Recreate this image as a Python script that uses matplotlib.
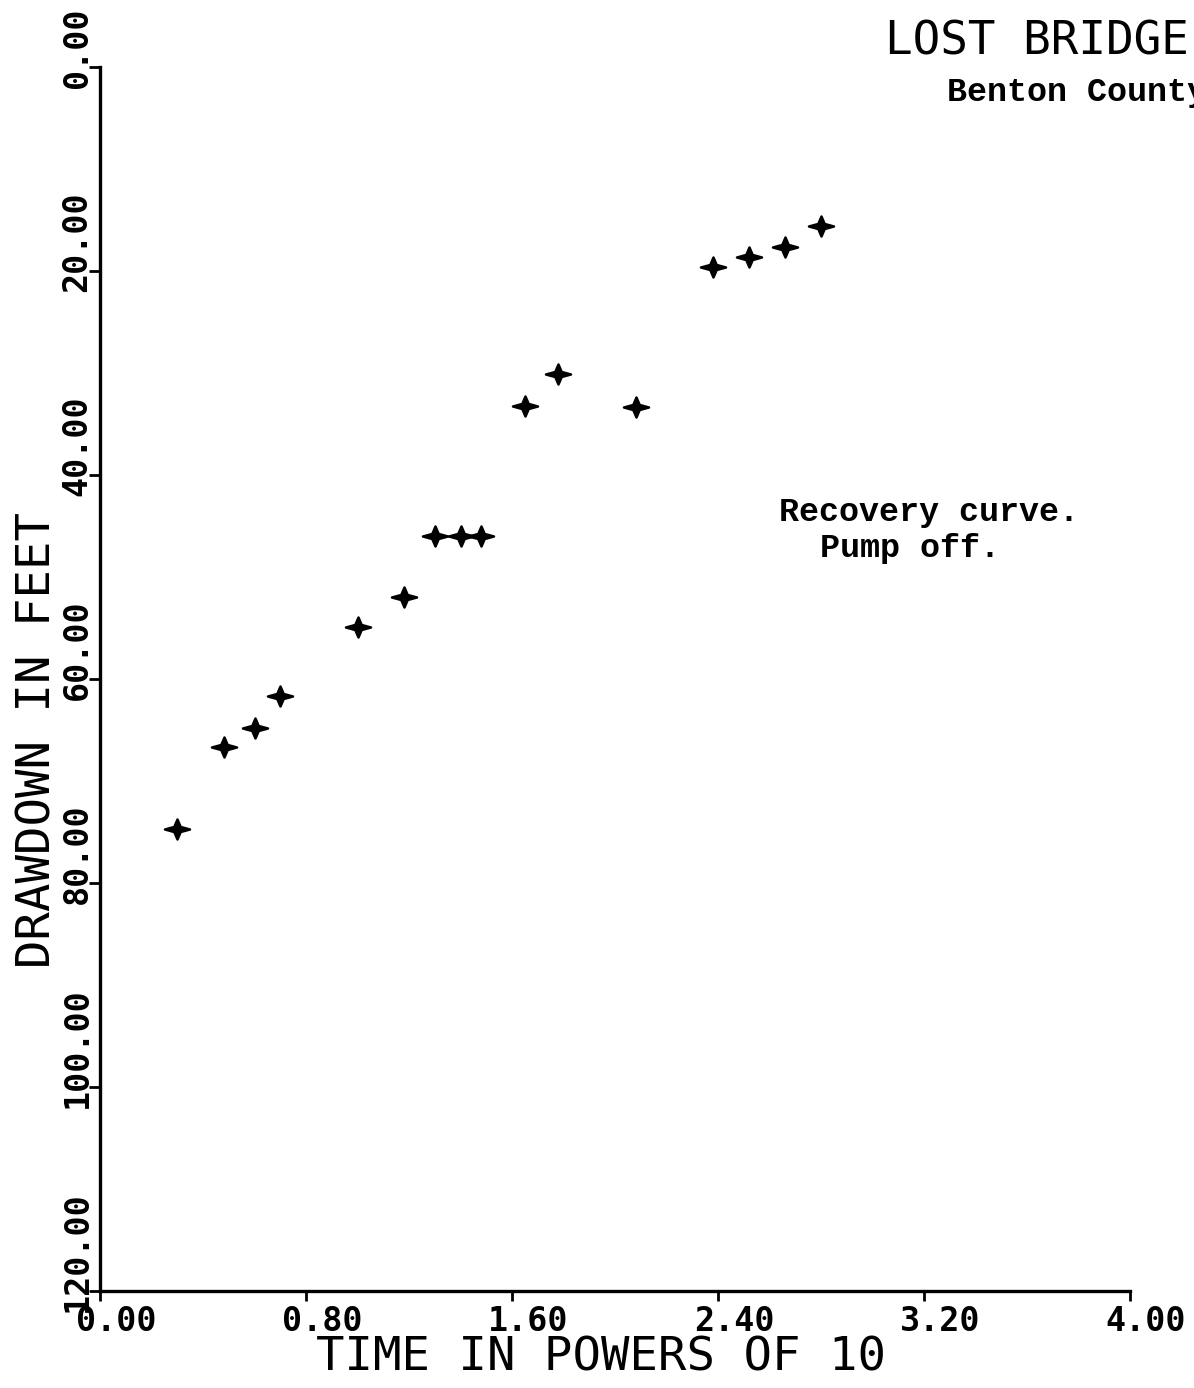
import numpy as np
import matplotlib
matplotlib.use("Agg")
import matplotlib.pyplot as plt
from matplotlib.path import Path
from matplotlib.transforms import Affine2D, ScaledTranslation

# log10 of time since pump stopped, and drawdown in feet
log_time = [0.30, 0.48, 0.60, 0.70, 1.00, 1.18, 1.30, 1.40, 1.48,
            1.65, 1.78, 2.08, 2.38, 2.52, 2.66, 2.80]
drawdown = [74.7, 66.7, 64.8, 61.7, 54.9, 52.0, 46.0, 46.0, 46.0,
            33.2, 30.1, 33.3, 19.6, 18.6, 17.6, 15.6]

x_ticks = [0.0, 0.8, 1.6, 2.4, 3.2, 4.0]
y_ticks = [0, 20, 40, 60, 80, 100, 120]

plotter = "DejaVu Sans Mono"
typewriter = "Liberation Mono"

fig = plt.figure(figsize=(11.94, 13.88), dpi=100)
ax = fig.add_axes([100 / 1194, 97 / 1388, 1030 / 1194, 1224 / 1388])

# plotter "+" symbol: four-pointed star, a bit wider than tall
star = Path.unit_regular_star(4, 0.36)
star = star.transformed(Affine2D().scale(1.25, 1.0))
ax.plot(log_time, drawdown, linestyle="none", marker=star, markersize=18,
        markeredgewidth=1.8, color="black", clip_on=False)

ax.set_xlim(0, 4.0)
ax.set_ylim(120, 0)

for side in ("top", "right"):
    ax.spines[side].set_visible(False)
for side in ("left", "bottom"):
    ax.spines[side].set_linewidth(2.4)

ax.set_xticks(x_ticks)
ax.set_xticklabels([f"{v:.2f}" for v in x_ticks], fontfamily=plotter,
                   fontsize=24, fontweight="bold")
ax.tick_params(axis="x", direction="out", length=7, width=2, pad=3)
shift = ScaledTranslation(0.16, 0, fig.dpi_scale_trans)
for lbl in ax.get_xticklabels():
    lbl.set_transform(lbl.get_transform() + shift)

ax.set_yticks(y_ticks)
ax.set_yticklabels([])
ax.tick_params(axis="y", direction="out", length=8, width=2)
ylab_tr = ax.get_yaxis_transform() + ScaledTranslation(-0.23, -0.21, fig.dpi_scale_trans)
for v in y_ticks:
    ax.text(0, v, f"{v:.2f}", transform=ylab_tr, rotation=90,
            rotation_mode="anchor", ha="left", va="center",
            fontfamily=plotter, fontsize=24, fontweight="bold")

fig.text(601 / 1194, 1 - 1358 / 1388, "TIME IN POWERS OF 10",
         ha="center", va="center", fontfamily=plotter, fontsize=34)
fig.text(38 / 1194, 1 - 740 / 1388, "DRAWDOWN IN FEET", rotation=90,
         ha="center", va="center", fontfamily=plotter, fontsize=34)

fig.text(885 / 1194, 1 - 42 / 1388, "LOST BRIDGE", ha="left", va="center",
         fontfamily=plotter, fontsize=33)
fig.text(947 / 1194, 1 - 92 / 1388, "Benton County", ha="left", va="center",
         fontfamily=typewriter, fontsize=24, fontweight="bold")

fig.text(779 / 1194, 1 - 512 / 1388, "Recovery curve.", ha="left", va="center",
         fontfamily=typewriter, fontsize=24, fontweight="bold")
fig.text(820 / 1194, 1 - 548 / 1388, "Pump off.", ha="left", va="center",
         fontfamily=typewriter, fontsize=24, fontweight="bold")

fig.savefig("out.png", dpi=100, facecolor="white")
